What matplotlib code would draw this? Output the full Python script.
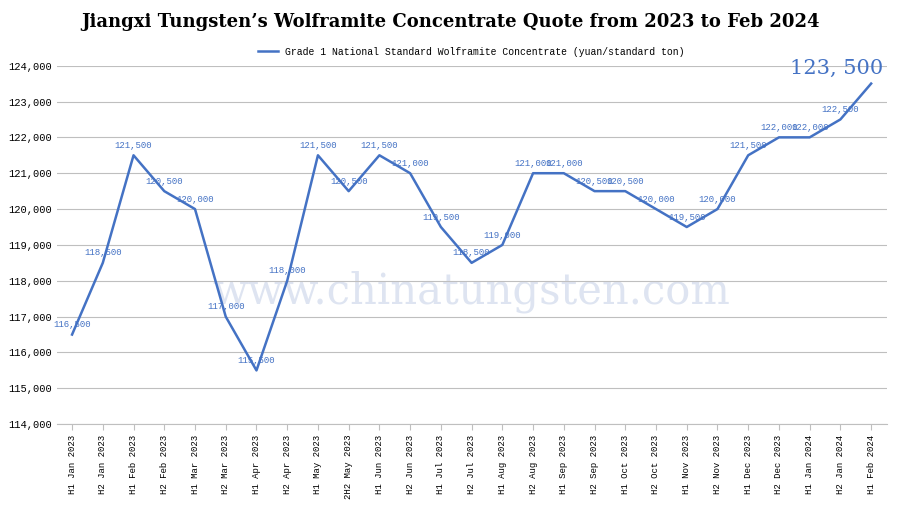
import matplotlib.pyplot as plt
import numpy as np

periods = ["H1 Jan 2023", "H2 Jan 2023", "H1 Feb 2023", "H2 Feb 2023", "H1 Mar 2023",
           "H2 Mar 2023", "H1 Apr 2023", "H2 Apr 2023", "H1 May 2023", "2H2 May 2023",
           "H1 Jun 2023", "H2 Jun 2023", "H1 Jul 2023", "H2 Jul 2023", "H1 Aug 2023",
           "H2 Aug 2023", "H1 Sep 2023", "H2 Sep 2023", "H1 Oct 2023", "H2 Oct 2023",
           "H1 Nov 2023", "H2 Nov 2023", "H1 Dec 2023", "H2 Dec 2023", "H1 Jan 2024",
           "H2 Jan 2024", "H1 Feb 2024"]
prices = [116500, 118500, 121500, 120500, 120000, 117000, 115500, 118000, 121500, 120500,
          121500, 121000, 119500, 118500, 119000, 121000, 121000, 120500, 120500, 120000,
          119500, 120000, 121500, 122000, 122000, 122500, 123500]

blue = "#4472c4"
fig = plt.figure(figsize=(9, 5.05), dpi=100)
ax = fig.add_axes([0.063, 0.16, 0.922, 0.71])
x = np.arange(len(periods))
ax.plot(x, prices, color=blue, lw=1.8,
        label="Grade 1 National Standard Wolframite Concentrate (yuan/standard ton)")

for i, v in enumerate(prices):
    if i == len(prices) - 1:
        ax.text(i + 0.4, v + 150, f"{v:,}".replace(",", ", "), color=blue, fontsize=15,
                ha="right", va="bottom", family="DejaVu Serif")
    else:
        ax.text(i, v + 150, f"{v:,}", color=blue, fontsize=6.5, ha="center", va="bottom",
                family="Liberation Mono")

ax.text(0.5, 0.37, "www.chinatungsten.com", transform=ax.transAxes, fontsize=30,
        color="#c8d3e8", alpha=0.6, ha="center", va="center", family="DejaVu Serif", zorder=0)

ax.set_xlim(-0.5, len(periods) - 0.5)
ax.set_ylim(114000, 124000)
ax.set_yticks(np.arange(114000, 124001, 1000))
ax.set_yticklabels([f"{t:,}" for t in range(114000, 124001, 1000)], fontsize=7.5,
                   family="Liberation Mono")
ax.set_xticks(x)
ax.set_xticklabels(periods, rotation=90, fontsize=6.5, family="Liberation Mono")
ax.grid(axis="y", color="#bfbfbf", lw=0.8)
for s in ["top", "right", "left"]:
    ax.spines[s].set_visible(False)
ax.spines["bottom"].set_color("#bfbfbf")
ax.tick_params(length=0)
ax.tick_params(axis="x", length=4, color="#bfbfbf")

ax.legend(loc="lower center", bbox_to_anchor=(0.5, 1.0), frameon=False,
          prop={"family": "Liberation Mono", "size": 7})
fig.suptitle("Jiangxi Tungsten\u2019s Wolframite Concentrate Quote from 2023 to Feb 2024",
             y=0.975, fontsize=13, fontweight="bold", family="DejaVu Serif")
fig.savefig("out.png")
